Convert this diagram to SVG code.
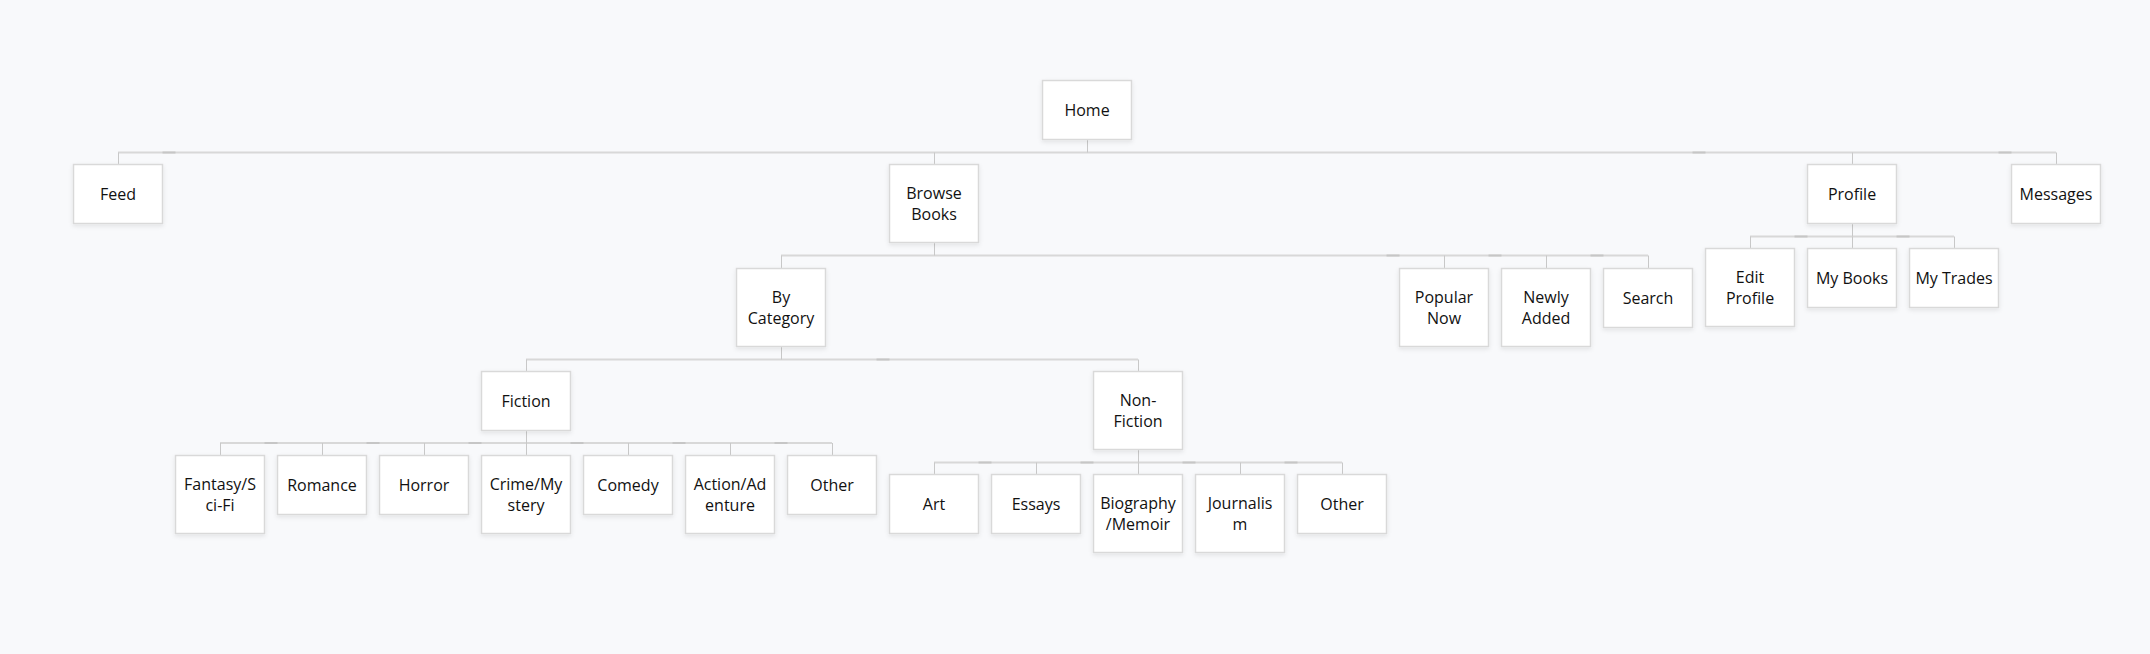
<svg xmlns="http://www.w3.org/2000/svg" width="2150" height="654" viewBox="0 0 2150 654">
<defs>
<filter id="sh" x="-20%" y="-20%" width="140%" height="150%">
<feDropShadow dx="0" dy="2" stdDeviation="2" flood-color="#000" flood-opacity="0.09"/>
</filter>
<style>
.n rect{fill:#fff;stroke:#d9d9d9;stroke-width:1.5;filter:url(#sh)}
.n text{font-family:"Open Sans","Noto Sans","DejaVu Sans",sans-serif;font-size:16px;fill:#111;text-anchor:middle}
.h{stroke:#d8d8d8;stroke-width:2;fill:none}
.v{stroke:#c8c8c8;stroke-width:1;fill:none}
.d{stroke:#c6c6c6;stroke-width:2;fill:none}
</style>
</defs>
<rect x="0" y="0" width="2150" height="654" fill="#f8f9fb"/>
<g id="connectors">
<path class="h" d="M118 152.5H2056M781 255.5H1648M526 359.5H1138M220 443H832M934 462.5H1342M1750 236.5H1954"/>
<path class="d" d="M162.5 152.5h13M1692.5 152.5h13M1998.5 152.5h13M1386.5 255.5h13M1488.5 255.5h13M1590.5 255.5h13M876.5 359.5h13M264.5 443h13M366.5 443h13M468.5 443h13M570.5 443h13M672.5 443h13M774.5 443h13M978.5 462.5h13M1080.5 462.5h13M1182.5 462.5h13M1284.5 462.5h13M1794.5 236.5h13M1896.5 236.5h13"/>
<path class="v" d="M1087.5 139.5V152.5M118.5 152.5V164.5M934.5 152.5V164.5M1852.5 152.5V164.5M2056.5 152.5V164.5M934.5 242.5V255.5M781.5 255.5V268.5M1444.5 255.5V268.5M1546.5 255.5V268.5M1648.5 255.5V268.5M781.5 346.5V359.5M526.5 359.5V371.5M1138.5 359.5V371.5M526.5 430.5V443M220.5 443V455.5M322.5 443V455.5M424.5 443V455.5M526.5 443V455.5M628.5 443V455.5M730.5 443V455.5M832.5 443V455.5M1138.5 449.5V462.5M934.5 462.5V474.5M1036.5 462.5V474.5M1138.5 462.5V474.5M1240.5 462.5V474.5M1342.5 462.5V474.5M1852.5 223.5V236.5M1750.5 236.5V248.5M1852.5 236.5V248.5M1954.5 236.5V248.5"/>
</g>
<g id="home" class="n"><rect x="1042.5" y="80.5" width="89" height="59"/><text x="1087" y="116">Home</text></g>
<g id="feed" class="n"><rect x="73.5" y="164.5" width="89" height="59"/><text x="118" y="200">Feed</text></g>
<g id="browse-books" class="n"><rect x="889.5" y="164.5" width="89" height="78"/><text x="934" y="198.5">Browse</text><text x="934" y="220">Books</text></g>
<g id="profile" class="n"><rect x="1807.5" y="164.5" width="89" height="59"/><text x="1852" y="200">Profile</text></g>
<g id="messages" class="n"><rect x="2011.5" y="164.5" width="89" height="59"/><text x="2056" y="200">Messages</text></g>
<g id="by-category" class="n"><rect x="736.5" y="268.5" width="89" height="78"/><text x="781" y="302.5">By</text><text x="781" y="324">Category</text></g>
<g id="popular-now" class="n"><rect x="1399.5" y="268.5" width="89" height="78"/><text x="1444" y="302.5">Popular</text><text x="1444" y="324">Now</text></g>
<g id="newly-added" class="n"><rect x="1501.5" y="268.5" width="89" height="78"/><text x="1546" y="302.5">Newly</text><text x="1546" y="324">Added</text></g>
<g id="search" class="n"><rect x="1603.5" y="268.5" width="89" height="59"/><text x="1648" y="304">Search</text></g>
<g id="edit-profile" class="n"><rect x="1705.5" y="248.5" width="89" height="78"/><text x="1750" y="282.5">Edit</text><text x="1750" y="304">Profile</text></g>
<g id="my-books" class="n"><rect x="1807.5" y="248.5" width="89" height="59"/><text x="1852" y="284">My Books</text></g>
<g id="my-trades" class="n"><rect x="1909.5" y="248.5" width="89" height="59"/><text x="1954" y="284">My Trades</text></g>
<g id="fiction" class="n"><rect x="481.5" y="371.5" width="89" height="59"/><text x="526" y="407">Fiction</text></g>
<g id="non-fiction" class="n"><rect x="1093.5" y="371.5" width="89" height="78"/><text x="1138" y="405.5">Non-</text><text x="1138" y="427">Fiction</text></g>
<g id="fantasy" class="n"><rect x="175.5" y="455.5" width="89" height="78"/><text x="220" y="489.5">Fantasy/S</text><text x="220" y="511">ci-Fi</text></g>
<g id="romance" class="n"><rect x="277.5" y="455.5" width="89" height="59"/><text x="322" y="491">Romance</text></g>
<g id="horror" class="n"><rect x="379.5" y="455.5" width="89" height="59"/><text x="424" y="491">Horror</text></g>
<g id="crime" class="n"><rect x="481.5" y="455.5" width="89" height="78"/><text x="526" y="489.5">Crime/My</text><text x="526" y="511">stery</text></g>
<g id="comedy" class="n"><rect x="583.5" y="455.5" width="89" height="59"/><text x="628" y="491">Comedy</text></g>
<g id="action" class="n"><rect x="685.5" y="455.5" width="89" height="78"/><text x="730" y="489.5">Action/Ad</text><text x="730" y="511">enture</text></g>
<g id="fiction-other" class="n"><rect x="787.5" y="455.5" width="89" height="59"/><text x="832" y="491">Other</text></g>
<g id="art" class="n"><rect x="889.5" y="474.5" width="89" height="59"/><text x="934" y="510">Art</text></g>
<g id="essays" class="n"><rect x="991.5" y="474.5" width="89" height="59"/><text x="1036" y="510">Essays</text></g>
<g id="biography" class="n"><rect x="1093.5" y="474.5" width="89" height="78"/><text x="1138" y="508.5">Biography</text><text x="1138" y="530">/Memoir</text></g>
<g id="journalism" class="n"><rect x="1195.5" y="474.5" width="89" height="78"/><text x="1240" y="508.5">Journalis</text><text x="1240" y="530">m</text></g>
<g id="nonfiction-other" class="n"><rect x="1297.5" y="474.5" width="89" height="59"/><text x="1342" y="510">Other</text></g>
</svg>
